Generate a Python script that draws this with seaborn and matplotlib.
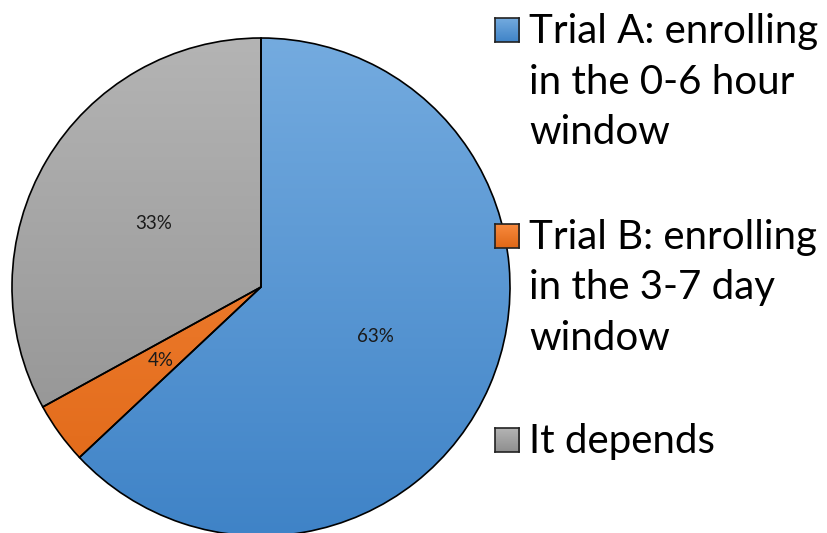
import numpy as np
import matplotlib
matplotlib.use("Agg")
import matplotlib.pyplot as plt
import seaborn as sns
from matplotlib.colors import LinearSegmentedColormap

labels = ["Trial A: enrolling\nin the 0-6 hour\nwindow",
          "Trial B: enrolling\nin the 3-7 day\nwindow",
          "It depends"]
shares = [63, 4, 33]
pct_text = ["63%", "4%", "33%"]
# light (top) / dark (bottom) ends of each slice gradient
top_colors = ["#74abdf", "#f88a3e", "#b4b4b4"]
bottom_colors = ["#3f83c7", "#df6716", "#8e8e8e"]

sns.set_style("white")
plt.rcParams["font.family"] = ["Lato", "DejaVu Sans"]

fig = plt.figure(figsize=(8.27, 5.33), dpi=100)
W, H = 827, 533


def px_axes(x0, y0, x1, y1):
    return fig.add_axes([x0 / W, 1 - y1 / H, (x1 - x0) / W, (y1 - y0) / H])


ax = px_axes(12, 38, 510, 536)
wedges, _ = ax.pie(shares, startangle=90, counterclock=False, radius=1,
                   colors=["none"] * 3,
                   wedgeprops=dict(edgecolor="black", linewidth=1.2))
grad = np.linspace(1, 0, 256).reshape(-1, 1)
for w, c_top, c_bot in zip(wedges, top_colors, bottom_colors):
    cmap = LinearSegmentedColormap.from_list("g", [c_bot, c_top])
    im = ax.imshow(grad, extent=(-1, 1, -1, 1), cmap=cmap, aspect="auto",
                   zorder=0.5)
    im.set_clip_path(w)
    w.set_zorder(1)

# percentage labels at half radius along slice mid-angles
for w, txt in zip(wedges, pct_text):
    mid = np.deg2rad((w.theta1 + w.theta2) / 2)
    ax.text(0.5 * np.cos(mid), 0.5 * np.sin(mid), txt, ha="center",
            va="center", fontsize=13.5, color="#1a1a1a", zorder=3)

ax.set_xlim(-1, 1)
ax.set_ylim(-1, 1)
ax.set_aspect("equal")
ax.axis("off")

# legend built by hand
legend_y = [16, 222, 426]
for lab, y, c_top, c_bot in zip(labels, legend_y, top_colors, bottom_colors):
    sax = px_axes(495, y + 2, 519, y + 26)
    cmap = LinearSegmentedColormap.from_list("g", [c_bot, c_top])
    sax.imshow(grad, cmap=cmap, aspect="auto", extent=(0, 1, 0, 1))
    sax.set_xticks([])
    sax.set_yticks([])
    for s in sax.spines.values():
        s.set_color("#222222")
        s.set_linewidth(1.2)
    fig.text(529 / W, 1 - (y - 3) / H, lab, ha="left", va="top",
             fontsize=29, linespacing=1.45, color="black")

fig.savefig("out.png", dpi=100)
